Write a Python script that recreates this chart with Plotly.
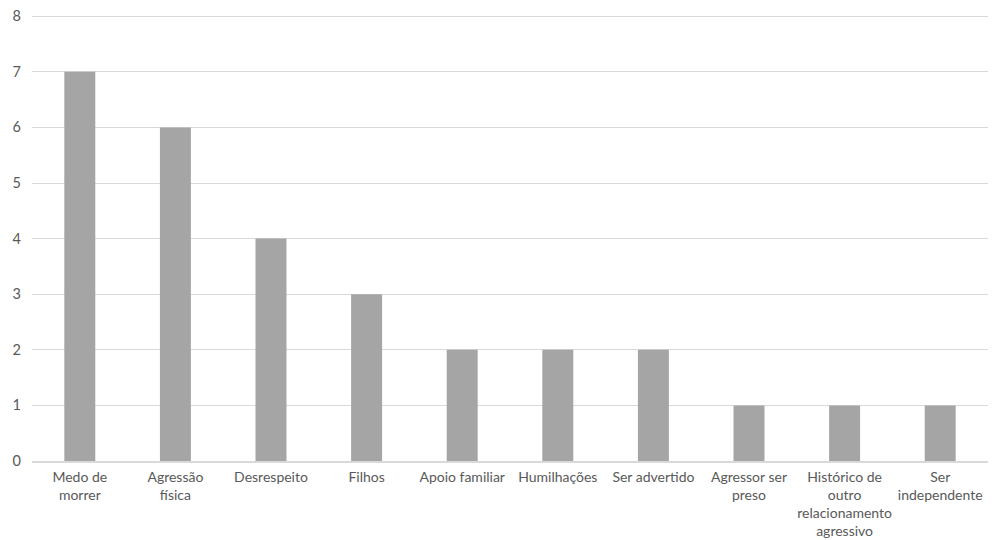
import plotly.graph_objects as go

categories = ["Medo de<br>morrer", "Agressão<br>física", "Desrespeito", "Filhos",
              "Apoio familiar", "Humilhações", "Ser advertido", "Agressor ser<br>preso",
              "Histórico de<br>outro<br>relacionamento<br>agressivo", "Ser<br>independente"]
values = [7, 6, 4, 3, 2, 2, 2, 1, 1, 1]
y_ticks = [0, 1, 2, 3, 4, 5, 6, 7, 8]

fig = go.Figure(go.Bar(x=categories, y=values, marker_color="#a5a5a5", marker_line_width=0))

fig.update_layout(
    width=992, height=540,
    margin=dict(l=32, r=4, t=14, b=79, autoexpand=False),
    paper_bgcolor="white", plot_bgcolor="white",
    bargap=0.676,
    showlegend=False,
    font=dict(family="Lato", size=14, color="#595959"),
)
fig.update_xaxes(showgrid=False, showline=True, linecolor="#d9d9d9", linewidth=1.5,
                 ticks="", automargin=False, ticklabelstandoff=2,
                 tickfont=dict(size=14, color="#595959"), tickangle=0)
fig.update_yaxes(range=[0, 8.04], tickvals=y_ticks, showgrid=True, gridcolor="#d9d9d9",
                 gridwidth=1, zeroline=False, showline=False, ticks="", automargin=False,
                 ticklabelstandoff=10, tickfont=dict(size=14.5, color="#595959"))

fig.write_html("out.html", config={"displayModeBar": False},
               post_script="document.body.style.margin='0';")
